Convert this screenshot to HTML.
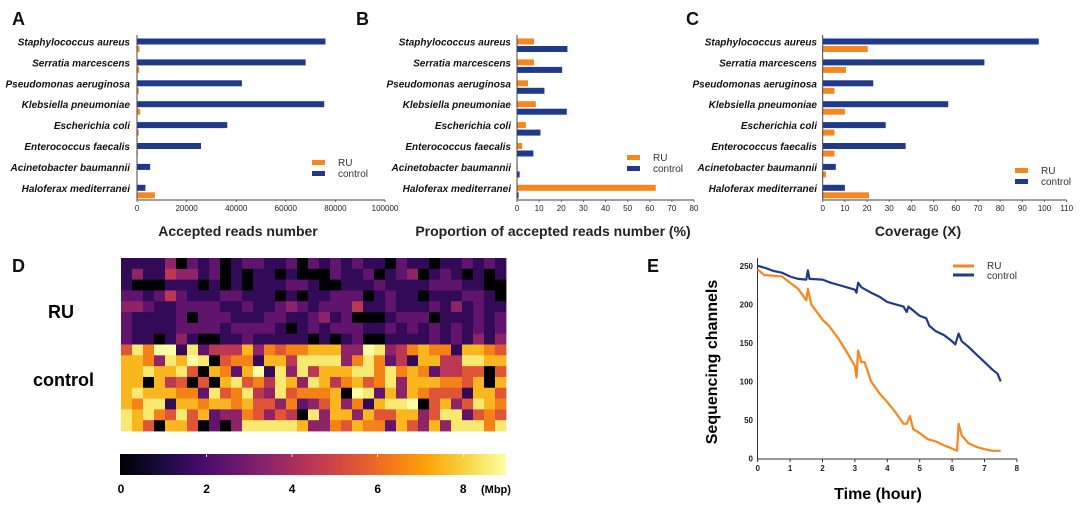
<!DOCTYPE html>
<html><head><meta charset="utf-8"><style>
body{margin:0;background:#fff;}
svg{display:block;font-family:"Liberation Sans",Arial,sans-serif;}
.cat{font-size:10px;font-style:italic;font-weight:bold;fill:#111;}
.tk{font-size:8px;fill:#222;}
.ttl{font-size:14px;font-weight:bold;fill:#222;}
.pl{font-size:18px;font-weight:bold;fill:#111;}
.lg{font-size:10px;fill:#333;}
</style></head><body>
<svg id="fig" width="1080" height="512" viewBox="0 0 1080 512">
<g id="gA"></g>
<g id="gB"></g>
<g id="gC"></g>
<g id="gD"></g>
<g id="gE"></g>
</svg>
<script>
const species=["Staphylococcus aureus","Serratia marcescens","Pseudomonas aeruginosa","Klebsiella pneumoniae","Escherichia coli","Enterococcus faecalis","Acinetobacter baumannii","Haloferax mediterranei"];
const aControl=[76000,68000,42300,75500,36400,25800,5300,3400];
const aRU=[1000,900,700,1300,700,300,0,7200];
const aTicks=[0,20000,40000,60000,80000,100000];
const bControl=[22.8,20.4,12.4,22.5,10.6,7.4,1.2,0.7];
const bRU=[7.7,7.7,5.0,8.5,4.0,2.3,0.3,62.7];
const bTicks=[0,10,20,30,40,50,60,70,80];
const cControl=[97.4,72.9,22.8,56.6,28.4,37.4,5.9,10.0];
const cRU=[20.3,10.5,5.3,10.0,5.3,5.3,1.5,20.9];
const cTicks=[0,10,20,30,40,50,60,70,80,90,100,110];
const heatRows=[
"11113021201221120212121102110112121",
"13114331201011010002112012301210101",
"10001110101011122100111211112221100",
"22124211122111010112220121101112210",
"33211222211211232122241121112131211",
"21111202221112211231200012220111212",
"21111222212222101212221121212121212",
"21101310011211111010120011112121313",
"58699182444736566777339834676617765",
"77638798056617748888368624177448877",
"77877850762791838477788686762445505",
"77074505078564873874675683777665707",
"78777662856843856667098273765551775",
"76881776776755362357361788905735876",
"87865857233653540837737557735882565",
"87507750203888887336576627537388868"];
const cbTicks=[0,2,4,6,8];
const eCtlT=[0,0.25,0.5,0.75,1,1.25,1.5,1.55,1.6,2,2.25,2.5,2.75,3,3.05,3.1,3.2,3.5,3.75,4,4.25,4.5,4.6,4.65,5,5.2,5.3,5.5,5.75,6,6.1,6.2,6.3,6.5,6.75,7,7.25,7.4,7.5];
const eCtlV=[250,247,243,241,236,233,232,244,233,232,228,225,222,219,215,228,222,215,210,203,200,197,190,197,185,182,172,165,160,152,148,162,152,145,135,125,115,110,100];
const eRUT=[0,0.2,0.5,0.75,1,1.25,1.5,1.55,1.65,2,2.2,2.5,2.75,3,3.05,3.1,3.2,3.3,3.5,3.75,4,4.25,4.5,4.6,4.7,4.8,5,5.25,5.5,5.75,6,6.15,6.2,6.3,6.5,6.75,7,7.25,7.5];
const eRUV=[245,238,237,236,228,220,205,220,200,180,172,155,138,120,105,140,125,125,100,85,73,60,45,45,55,38,33,25,22,17,13,10,45,30,20,15,12,10,10];
const eXTicks=[0,1,2,3,4,5,6,7,8];
const eYTicks=[0,50,100,150,200,250];

const NS="http://www.w3.org/2000/svg";
const ORG="#f7861c",BLU="#1f3a8a";
function mk(p,tag,at,txt){const e=document.createElementNS(NS,tag);for(const k in at)e.setAttribute(k,at[k]);if(txt!==undefined)e.textContent=txt;p.appendChild(e);return e;}

function barPanel(g,o){
  const sx=v=>o.x0+(v-o.min)/(o.max-o.min)*(o.x1-o.x0);
  species.forEach((s,i)=>{
    const cy=o.rowTop+i*o.step;
    const t=mk(g,'text',{x:o.labX,y:cy+7,'text-anchor':'end',class:'cat'},s);
    
    
    const first=o.ruFirst?o.ru:o.ctl, second=o.ruFirst?o.ctl:o.ru;
    const c1=o.ruFirst?ORG:BLU, c2=o.ruFirst?BLU:ORG;
    const r1=mk(g,'rect',{x:o.x0,y:cy,width:Math.max(0,sx(first[i])-o.x0),height:6,fill:c1});
    
    
    const r2=mk(g,'rect',{x:o.x0,y:cy+7.5,width:Math.max(0,sx(second[i])-o.x0),height:6,fill:c2});
    
    
  });
  mk(g,'line',{x1:o.x0,y1:o.yTop,x2:o.x0,y2:o.yAx,stroke:'#444','stroke-width':1});
  const ax=mk(g,'line',{x1:o.x0,y1:o.yAx,x2:o.x1,y2:o.yAx,stroke:'#666','stroke-width':1.2});
  
  
  o.ticks.forEach(v=>{
    mk(g,'line',{x1:sx(v),y1:o.yAx,x2:sx(v),y2:o.yAx+2,stroke:'#666'});
    const t=mk(g,'text',{x:sx(v),y:o.yAx+11,'text-anchor':'middle',class:'tk'},String(v));
    
    
  });
  const tt=mk(g,'text',{x:o.titleX,y:236,'text-anchor':'middle',class:'ttl'},o.title);
  
  
  const L=mk(g,'g',{});
  
  
  mk(L,'rect',{x:o.lgX,y:o.lgY,width:13,height:5,fill:ORG});
  mk(L,'text',{x:o.lgX+26,y:o.lgY+6,class:'lg'},'RU');
  mk(L,'rect',{x:o.lgX,y:o.lgY+11,width:13,height:5,fill:BLU});
  mk(L,'text',{x:o.lgX+26,y:o.lgY+17,class:'lg'},'control');
  const P=mk(g,'text',{x:o.pX,y:25,class:'pl'},o.letter);
  
  
}
barPanel(document.getElementById('gA'),{x0:137,x1:385,min:0,max:100000,ctl:aControl,ru:aRU,ruFirst:false,rowTop:38.5,step:20.9,labX:130,yTop:35,yAx:200,ticks:aTicks,title:'Accepted reads number',titleX:238,lgX:312,lgY:160,pX:12,letter:'A'});
barPanel(document.getElementById('gB'),{x0:517,x1:694,min:0,max:80,ctl:bControl,ru:bRU,ruFirst:true,rowTop:38.5,step:20.9,labX:511,yTop:35,yAx:200,ticks:bTicks,title:'Proportion of accepted reads number (%)',titleX:553,lgX:627,lgY:155,pX:356,letter:'B'});
barPanel(document.getElementById('gC'),{x0:822.7,x1:1066.7,min:0,max:110,ctl:cControl,ru:cRU,ruFirst:false,rowTop:38.5,step:20.9,labX:817,yTop:35,yAx:200,ticks:cTicks,title:'Coverage (X)',titleX:918,lgX:1015,lgY:168,pX:686,letter:'C'});

const stops=["#000004","#160b39","#420a68","#6a176e","#932667","#bc3754","#dd513a","#f37819","#fca50a","#f6d746","#fcffa4"];
function hex(c){return [1,3,5].map(i=>parseInt(c.substr(i,2),16));}
function cmap(t){t=Math.max(0,Math.min(1,t));const f=t*10,i=Math.min(9,Math.floor(f)),r=f-i;const a=hex(stops[i]),b=hex(stops[i+1]);return 'rgb('+a.map((v,k)=>Math.round(v+(b[k]-v)*r)).join(',')+')';}
(function(){
  const g=document.getElementById('gD');
  const x0=121,x1=506,y0=258,y1=431,NC=35,NR=heatRows.length,VMAX=9;
  const cw=(x1-x0)/NC,ch=(y1-y0)/NR;
  heatRows.forEach((row,r)=>{
    for(let c=0;c<NC;c++){
      const v=c<row.length?+row[c]:4;
      const val=v===0?0:v+0.5;
      const cell=mk(g,'rect',{x:x0+c*cw,y:y0+r*ch,width:cw+0.4,height:ch+0.4,fill:cmap(val/VMAX)});
      
      
    }
  });
  const P=mk(g,'text',{x:12,y:272,class:'pl'},'D');
  
  
  const l1=mk(g,'text',{x:48,y:318,style:'font-size:18px;font-weight:bold'},'RU');
  
  
  const l2=mk(g,'text',{x:33,y:386,style:'font-size:18px;font-weight:bold'},'control');
  
  
  const defs=mk(g,'defs',{});
  const lg=mk(defs,'linearGradient',{id:'inf',x1:0,y1:0,x2:1,y2:0});
  stops.forEach((s,i)=>mk(lg,'stop',{offset:(i*10)+'%','stop-color':s}));
  const cb=mk(g,'rect',{x:x0-1,y:454,width:x1-x0+1,height:21,fill:'url(#inf)'});
  
  
  cbTicks.forEach(v=>{
    const x=x0+v/VMAX*(x1-x0);
    if(v>0)mk(g,'line',{x1:x,y1:454,x2:x,y2:457,stroke:'#fff','stroke-width':0.8});
    const t=mk(g,'text',{x:x,y:493,'text-anchor':'middle',style:'font-size:12px;font-weight:bold'},String(v));
    
    
  });
  mk(g,'text',{x:481,y:493,style:'font-size:11px;font-weight:bold'},'(Mbp)');
})();

(function(){
  const g=document.getElementById('gE');
  const X0=757.7,XS=32.4,Y0=458.5,YS=0.771;
  const sx=v=>X0+v*XS, sy=v=>Y0-v*YS;
  mk(g,'line',{x1:757.5,y1:258,x2:757.5,y2:459,stroke:'#333','stroke-width':1});
  mk(g,'line',{x1:757,y1:459,x2:1017,y2:459,stroke:'#333','stroke-width':1});
  eXTicks.forEach(v=>{
    mk(g,'line',{x1:sx(v),y1:459,x2:sx(v),y2:462,stroke:'#333'});
    const t=mk(g,'text',{x:sx(v),y:471,'text-anchor':'middle',class:'tk',style:'font-weight:bold'},String(v));
    
    
  });
  eYTicks.forEach(v=>{
    const t=mk(g,'text',{x:753,y:sy(v)+3,'text-anchor':'end',class:'tk',style:'font-weight:bold'},String(v));
    
    
  });
  const path=(T,V)=>T.map((t,i)=>(i?'L':'M')+sx(t).toFixed(1)+','+sy(V[i]).toFixed(1)).join('');
  const lc=mk(g,'path',{d:path(eCtlT,eCtlV),fill:'none',stroke:BLU,'stroke-width':2.2,'stroke-linejoin':'round'});
  
  
  const lr=mk(g,'path',{d:path(eRUT,eRUV),fill:'none',stroke:ORG,'stroke-width':2.2,'stroke-linejoin':'round'});
  
  
  const L=mk(g,'g',{});
  
  
  mk(L,'line',{x1:953,y1:266,x2:974,y2:266,stroke:ORG,'stroke-width':3});
  mk(L,'text',{x:987,y:269,class:'lg'},'RU');
  mk(L,'line',{x1:953,y1:275,x2:974,y2:275,stroke:BLU,'stroke-width':3});
  mk(L,'text',{x:987,y:279,class:'lg'},'control');
  const yt=mk(g,'text',{x:0,y:0,transform:'translate(717,362) rotate(-90)','text-anchor':'middle',style:'font-size:16px;font-weight:bold'},'Sequencing channels');
  
  
  const xt=mk(g,'text',{x:878,y:499,'text-anchor':'middle',style:'font-size:16px;font-weight:bold'},'Time (hour)');
  
  
  const P=mk(g,'text',{x:647,y:272,class:'pl'},'E');
  
  
})();
</script>
</body></html>
